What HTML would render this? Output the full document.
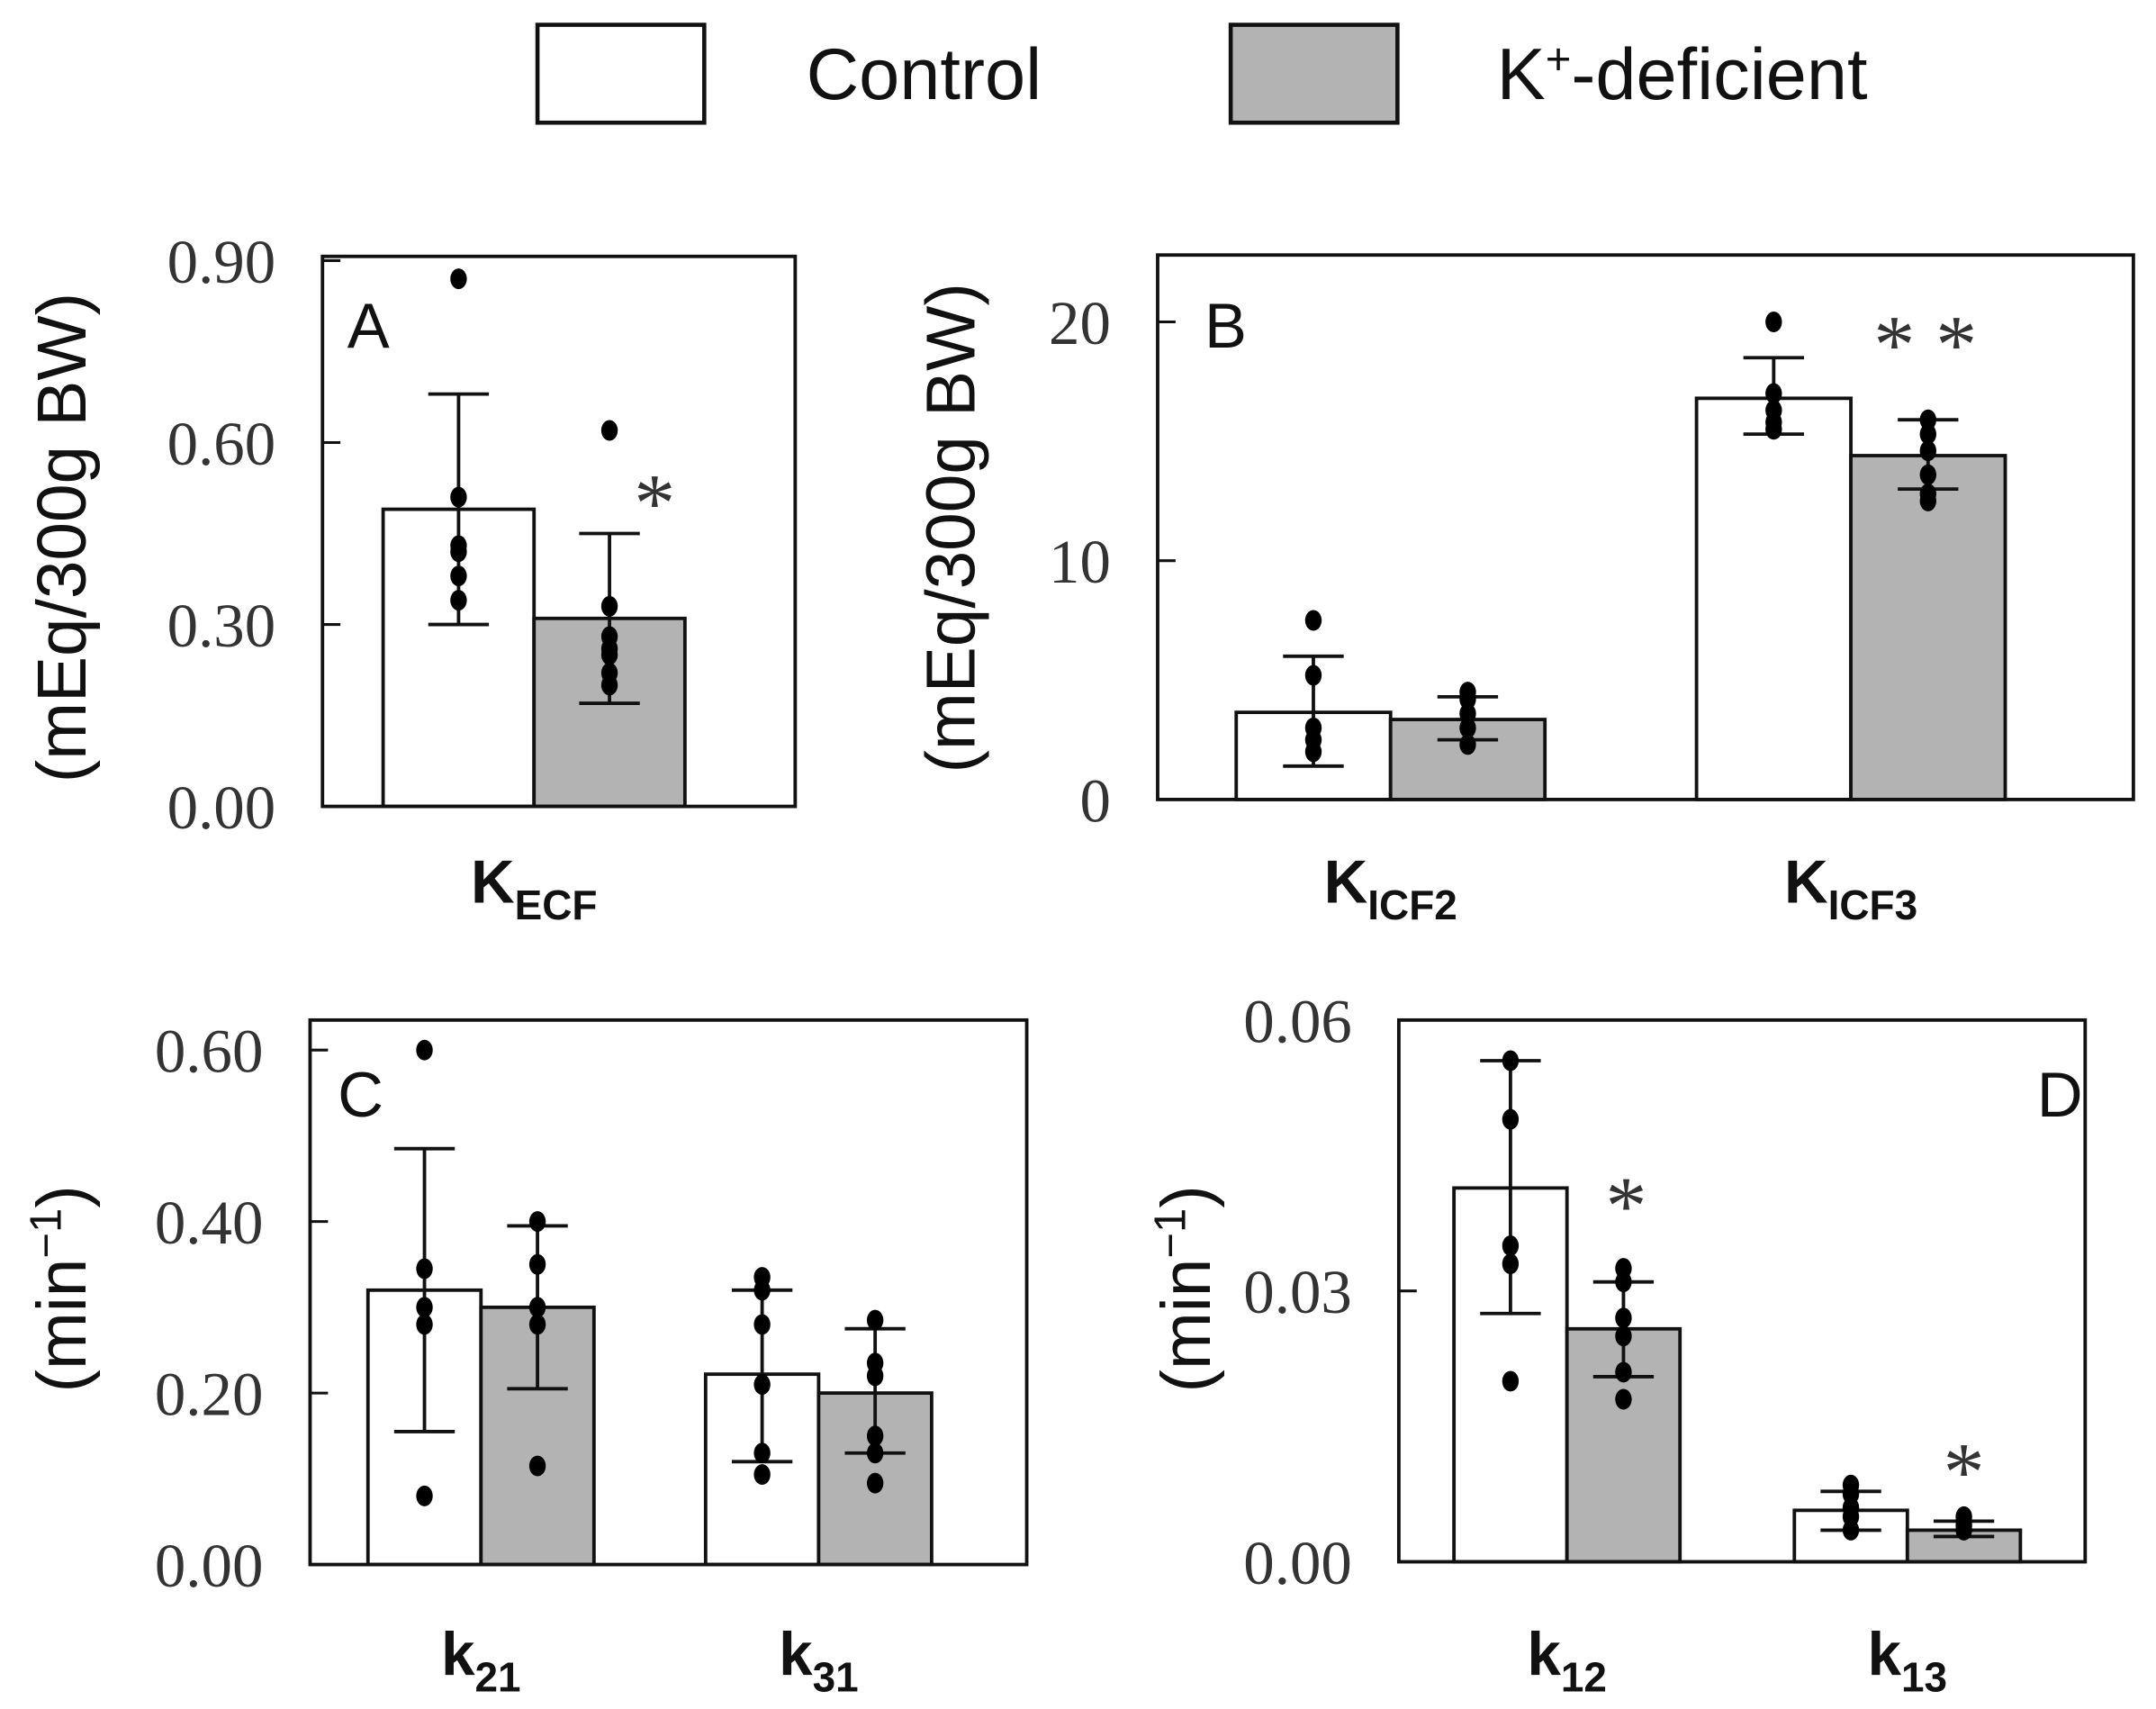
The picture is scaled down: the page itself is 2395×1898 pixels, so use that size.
<!DOCTYPE html>
<html><head><meta charset="utf-8">
<style>
html,body{margin:0;padding:0;background:#fff;}
svg{display:block;}
.tick{font-family:"Liberation Serif",serif;font-size:45px;fill:#333;}
.ylab{font-family:"Liberation Sans",sans-serif;font-size:50px;fill:#111;}
.xlab{font-family:"Liberation Sans",sans-serif;font-size:44px;font-weight:bold;fill:#111;}
.plab{font-family:"Liberation Sans",sans-serif;font-size:46px;fill:#111;}
.leg{font-family:"Liberation Sans",sans-serif;font-size:53px;fill:#111;}
</style></head>
<body>
<svg id="chart" width="2395" height="1898" viewBox="0 0 1564.4 1239.8" preserveAspectRatio="none" xmlns="http://www.w3.org/2000/svg">
<g>
<rect x="390" y="18" width="121" height="71" fill="#fff" stroke="#111" stroke-width="3"/>
<text x="585" y="72" class="leg">Control</text>
<rect x="893" y="18" width="121" height="71" fill="#b3b3b3" stroke="#111" stroke-width="3"/>
<text x="1086" y="72" class="leg">K<tspan dy="-18" font-size="32">+</tspan><tspan dy="18">-deficient</tspan></text>
</g>
</svg>
<script>
// Panel A
const catsA = ["ECF"];
const ctrlA = [0.49], kdA = [0.31];
const ctrlErrA = [[0.30,0.68]], kdErrA = [[0.17,0.45]];
const ctrlDotsA = [[0.87,0.51,0.43,0.42,0.38,0.34]];
const kdDotsA = [[0.62,0.33,0.28,0.26,0.25,0.22,0.20]];
const ticksA = ["0.00","0.30","0.60","0.90"];
const tickValsA = [0,0.3,0.6,0.9];
// Panel B
const catsB = ["ICF2","ICF3"];
const ctrlB = [3.65,16.8], kdB = [3.35,14.4];
const ctrlErrB = [[1.4,6.0],[15.3,18.5]], kdErrB = [[2.5,4.3],[13.0,15.9]];
const ctrlDotsB = [[7.5,5.2,3.0,2.5,2.0],[20.0,17.0,16.3,15.8,15.5]];
const kdDotsB = [[4.5,4.2,3.6,3.0,2.3],[15.9,15.3,14.6,13.6,12.8,12.5]];
const ticksB = ["0","10","20"];
const tickValsB = [0,10,20];
// Panel C
const catsC = ["21","31"];
const ctrlC = [0.32,0.222], kdC = [0.30,0.20];
const ctrlErrC = [[0.155,0.485],[0.12,0.32]], kdErrC = [[0.205,0.395],[0.13,0.275]];
const ctrlDotsC = [[0.60,0.345,0.30,0.28,0.08],[0.335,0.32,0.28,0.21,0.13,0.105]];
const kdDotsC = [[0.40,0.35,0.30,0.28,0.115],[0.285,0.235,0.22,0.15,0.13,0.095]];
const ticksC = ["0.00","0.20","0.40","0.60"];
const tickValsC = [0,0.2,0.4,0.6];
// Panel D
const catsD = ["12","13"];
const ctrlD = [0.0414,0.0057], kdD = [0.0258,0.0035];
const ctrlErrD = [[0.0275,0.0555],[0.0035,0.0078]], kdErrD = [[0.0205,0.031],[0.0028,0.0045]];
const ctrlDotsD = [[0.0555,0.049,0.035,0.033,0.020],[0.0085,0.0075,0.006,0.005,0.0035]];
const kdDotsD = [[0.0325,0.031,0.027,0.025,0.021,0.018],[0.005,0.0045,0.004,0.0035]];
const ticksD = ["0.00","0.03","0.06"];
const tickValsD = [0,0.03,0.06];

const NS = "http://www.w3.org/2000/svg";
const svg = document.getElementById('chart');
function mk(tag, attrs, parent){const e=document.createElementNS(NS,tag);for(const k in attrs)e.setAttribute(k,attrs[k]);(parent||svg).appendChild(e);return e;}

function panel(cfg){
  const g = mk('g',{});
  
  
  const y = v => cfg.y0 - (v/cfg.vmax)*(cfg.y0-cfg.top);
  cfg.tickVals.forEach((v,i)=>{
    const t = mk('line',{x1:cfg.left,x2:cfg.left+13,y1:y(v),y2:y(v),stroke:'#111','stroke-width':2},g);
    
    
    const tx = mk('text',{x:cfg.left-34,y:y(v)+16,'text-anchor':'end',class:'tick'},g);
    tx.textContent = cfg.ticks[i];
    
    
  });
  cfg.cats.forEach((c,i)=>{
    const x0 = cfg.groupX[i];
    [[cfg.ctrl,cfg.ctrlErr,cfg.ctrlDots,'#fff','control'],[cfg.kd,cfg.kdErr,cfg.kdDots,'#b3b3b3','k-deficient']].forEach((s,j)=>{
      const bx = x0 + j*cfg.bw;
      const b = mk('rect',{x:bx,y:y(s[0][i]),width:cfg.bw,height:cfg.y0-y(s[0][i]),fill:s[3],stroke:'#111','stroke-width':2.5},g);
      
      
      const cx = bx + cfg.bw/2;
      const e = s[1][i];
      const eg = mk('g',{stroke:'#111','stroke-width':2.5},g);
      
      
      mk('line',{x1:cx,x2:cx,y1:y(e[0]),y2:y(e[1])},eg);
      mk('line',{x1:cx-22,x2:cx+22,y1:y(e[0]),y2:y(e[0])},eg);
      mk('line',{x1:cx-22,x2:cx+22,y1:y(e[1]),y2:y(e[1])},eg);
      s[2][i].forEach(v=>{
        const d = mk('ellipse',{cx:cx,cy:y(v),rx:6,ry:7.5,fill:'#000'},g);
        
        
      });
    });
    const xl = mk('text',{x:x0+cfg.bw,y:cfg.xlabY,'text-anchor':'middle',class:'xlab'},g);
    xl.innerHTML = cfg.sym + '<tspan dy="12" font-size="30">'+c+'</tspan>';
    
    
  });
  const f = mk('rect',{x:cfg.left,y:cfg.top,width:cfg.right-cfg.left,height:cfg.y0-cfg.top,fill:'none',stroke:'#111','stroke-width':2.5},g);
  
  
  const pl = mk('text',{x:cfg.pl[0],y:cfg.pl[1],class:'plab'},g);
  pl.textContent = cfg.id;
  
  
  const yl = mk('text',{x:0,y:0,'text-anchor':'middle',class:'ylab',transform:'translate('+cfg.yl[0]+','+cfg.yl[1]+') rotate(-90)'},g);
  yl.innerHTML = cfg.ylab;
  
  
  cfg.stars.forEach(s=>{
    const st = mk('text',{x:s[0],y:s[1],'text-anchor':'middle',style:'font-family:"Liberation Serif",serif;font-size:60px;fill:#333'},g);
    st.textContent = s[2];
    
    
  });
}
const ylabMEq = '(mEq/300g BW)';
const ylabMin = '(min<tspan dy="-18" font-size="32">−1</tspan><tspan dy="18">)</tspan>';
panel({id:'A',left:234,right:577,top:186,y0:585,vmax:0.907,ticks:ticksA,tickVals:tickValsA,cats:catsA,groupX:[278],bw:109.5,
  ctrl:ctrlA,kd:kdA,ctrlErr:ctrlErrA,kdErr:kdErrA,ctrlDots:ctrlDotsA,kdDots:kdDotsA,sym:'K',xlabY:655,pl:[252,252],yl:[62,390],ylab:ylabMEq,stars:[[475,385,'*']]});
panel({id:'B',left:840,right:1548,top:185,y0:580,vmax:22.8,ticks:ticksB,tickVals:tickValsB,cats:catsB,groupX:[897,1231],bw:112,
  ctrl:ctrlB,kd:kdB,ctrlErr:ctrlErrB,kdErr:kdErrB,ctrlDots:ctrlDotsB,kdDots:kdDotsB,sym:'K',xlabY:655,pl:[874,252],yl:[707,383],ylab:ylabMEq,stars:[[1397,270,'* *']]});
panel({id:'C',left:225,right:745,top:740,y0:1135,vmax:0.635,ticks:ticksC,tickVals:tickValsC,cats:catsC,groupX:[267,512],bw:82,
  ctrl:ctrlC,kd:kdC,ctrlErr:ctrlErrC,kdErr:kdErrC,ctrlDots:ctrlDotsC,kdDots:kdDotsC,sym:'k',xlabY:1215,pl:[245,810],yl:[62,935],ylab:ylabMin,stars:[]});
panel({id:'D',left:1015,right:1513,top:740,y0:1133,vmax:0.06,ticks:ticksD,tickVals:tickValsD,cats:catsD,groupX:[1055,1302],bw:82,
  ctrl:ctrlD,kd:kdD,ctrlErr:ctrlErrD,kdErr:kdErrD,ctrlDots:ctrlDotsD,kdDots:kdDotsD,sym:'k',xlabY:1215,pl:[1478,810],yl:[878,935],ylab:ylabMin,stars:[[1180,895,'*'],[1425,1088,'*']]});
</script>
</body></html>
